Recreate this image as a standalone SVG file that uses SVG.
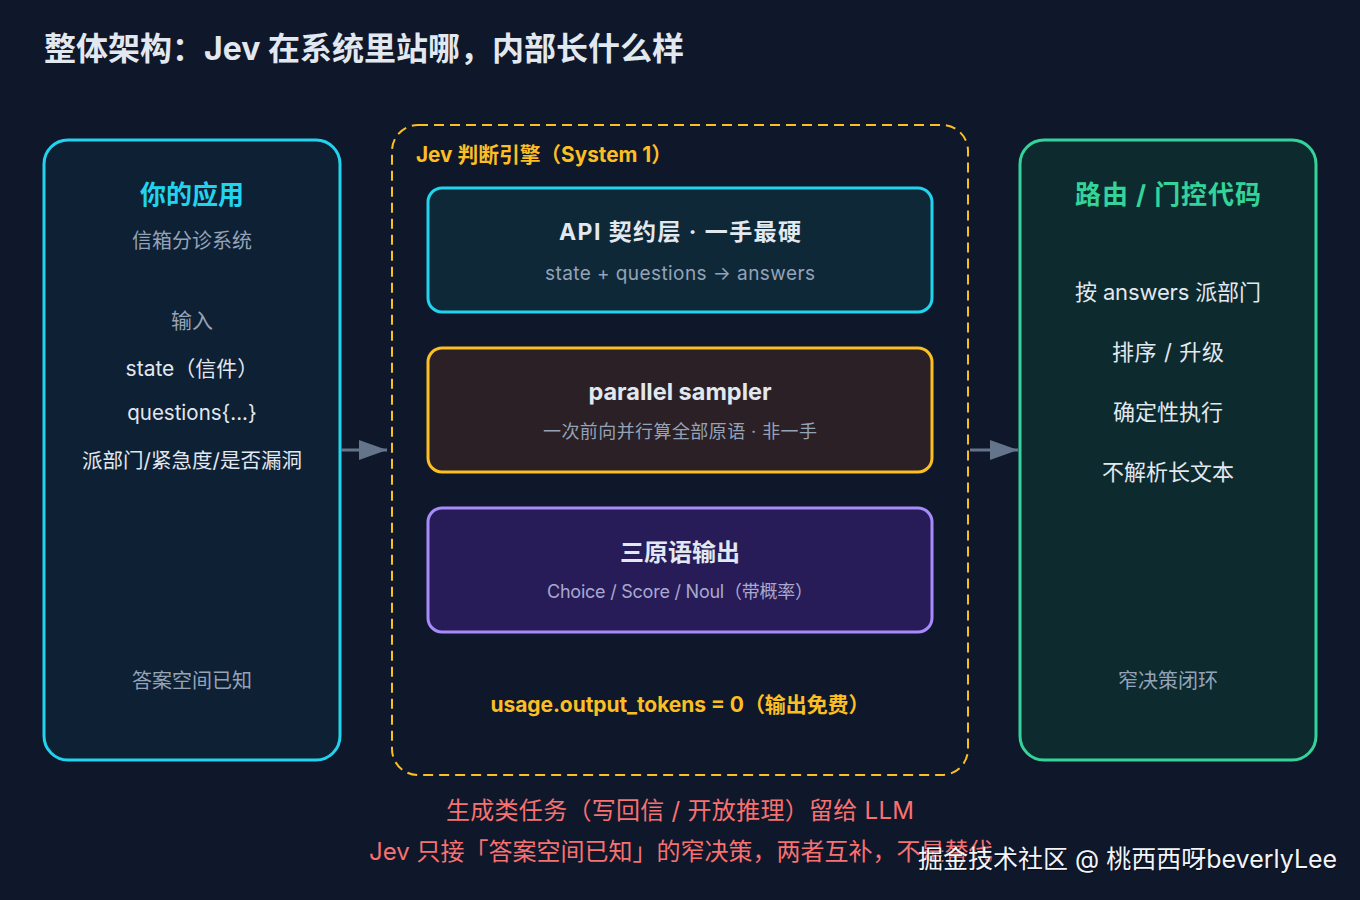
<svg xmlns="http://www.w3.org/2000/svg" width="1360" height="900" viewBox="0 0 1360 900">
<defs>
<style>
text{font-family:Inter,"Noto Sans CJK SC",sans-serif;}
.t{text-anchor:middle;}
.b{font-weight:bold;}
.main{fill:#e2e8f0;}
.muted{fill:#94a3b8;}
.card{stroke-width:3;}
.conn{stroke:#64748b;stroke-width:3;fill:none;}
</style>
<marker id="arr" viewBox="0 0 28 20" refX="28" refY="10" markerWidth="28" markerHeight="20" markerUnits="userSpaceOnUse" orient="auto">
<path d="M0,0 L28,10 L0,20 z" fill="#64748b"/>
</marker>
</defs>
<rect x="0" y="0" width="1360" height="900" fill="#0f172a"/>
<text x="44" y="60" font-size="32" class="b main">整体架构：Jev 在系统里站哪，内部长什么样</text>

<g id="app">
<rect x="44" y="140" width="296" height="620" rx="24" fill="#0e2033" stroke="#22d3ee" class="card"/>
<text x="192" y="204" font-size="26" class="t b" fill="#22d3ee">你的应用</text>
<text x="192" y="248" font-size="20" class="t muted">信箱分诊系统</text>
<text x="192" y="328" font-size="21" class="t muted">输入</text>
<text x="192" y="376" font-size="21" class="t main">state（信件）</text>
<text x="192" y="420" font-size="20.5" class="t main">questions{...}</text>
<text x="192" y="468" font-size="20.5" class="t main">派部门/紧急度/是否漏洞</text>
<text x="192" y="688" font-size="20" class="t muted">答案空间已知</text>
</g>

<g id="engine">
<rect x="392" y="125" width="576" height="650" rx="26" fill="none" stroke="#fbbf24" stroke-width="2" stroke-dasharray="10 6"/>
<text x="416" y="162" font-size="21" class="b" fill="#fbbf24" textLength="256" lengthAdjust="spacingAndGlyphs">Jev 判断引擎（System 1）</text>
<text x="680" y="712" font-size="21" class="t b" fill="#fbbf24" textLength="379">usage.output_tokens = 0（输出免费）</text>
</g>

<g id="api">
<rect x="428" y="188" width="504" height="124" rx="14" fill="#0f2838" stroke="#22d3ee" class="card"/>
<text x="680" y="240" font-size="23" class="t b main" textLength="242">API 契约层 · 一手最硬</text>
<text x="680" y="280" font-size="19" class="t muted" textLength="270">state + questions → answers</text>
</g>

<g id="sampler">
<rect x="428" y="348" width="504" height="124" rx="14" fill="#2a2026" stroke="#fbbf24" class="card"/>
<text x="680" y="400" font-size="23.5" class="t b main">parallel sampler</text>
<text x="680" y="438" font-size="18" class="t muted" textLength="274">一次前向并行算全部原语 · 非一手</text>
</g>

<g id="primitives">
<rect x="428" y="508" width="504" height="124" rx="14" fill="#271c58" stroke="#a78bfa" class="card"/>
<text x="680" y="561" font-size="24" class="t b main">三原语输出</text>
<text x="680" y="598" font-size="18" class="t" fill="#a9a8cf" textLength="266">Choice / Score / Noul（带概率）</text>
</g>

<g id="router">
<rect x="1020" y="140" width="296" height="620" rx="24" fill="#0d2a2f" stroke="#34d399" class="card"/>
<text x="1168" y="204" font-size="26" class="t b" fill="#34d399" textLength="186">路由 / 门控代码</text>
<text x="1168" y="300" font-size="22" class="t main" textLength="186">按 answers 派部门</text>
<text x="1168" y="360" font-size="22" class="t main" textLength="112">排序 / 升级</text>
<text x="1168" y="420" font-size="22" class="t main">确定性执行</text>
<text x="1168" y="480" font-size="22" class="t main">不解析长文本</text>
<text x="1168" y="688" font-size="20" class="t muted">窄决策闭环</text>
</g>

<g id="connectors">
<line x1="341" y1="450" x2="387" y2="450" class="conn" marker-end="url(#arr)"/>
<line x1="970" y1="450" x2="1018" y2="450" class="conn" marker-end="url(#arr)"/>
</g>

<g id="notes">
<text x="680" y="819" font-size="24" class="t" fill="#f87171" textLength="468">生成类任务（写回信 / 开放推理）留给 LLM</text>
<text x="369" y="860" font-size="24" fill="#f87171">Jev 只接「答案空间已知」的窄决策，两者互补，不是替代</text>
</g>

<g id="watermark">
<text x="919" y="869" font-size="25" fill="#000000" fill-opacity="0.5">掘金技术社区 @ 桃西西呀beverlyLee</text>
<text x="918" y="868" font-size="25" fill="#f1f5f9">掘金技术社区 @ 桃西西呀beverlyLee</text>
</g>
</svg>
